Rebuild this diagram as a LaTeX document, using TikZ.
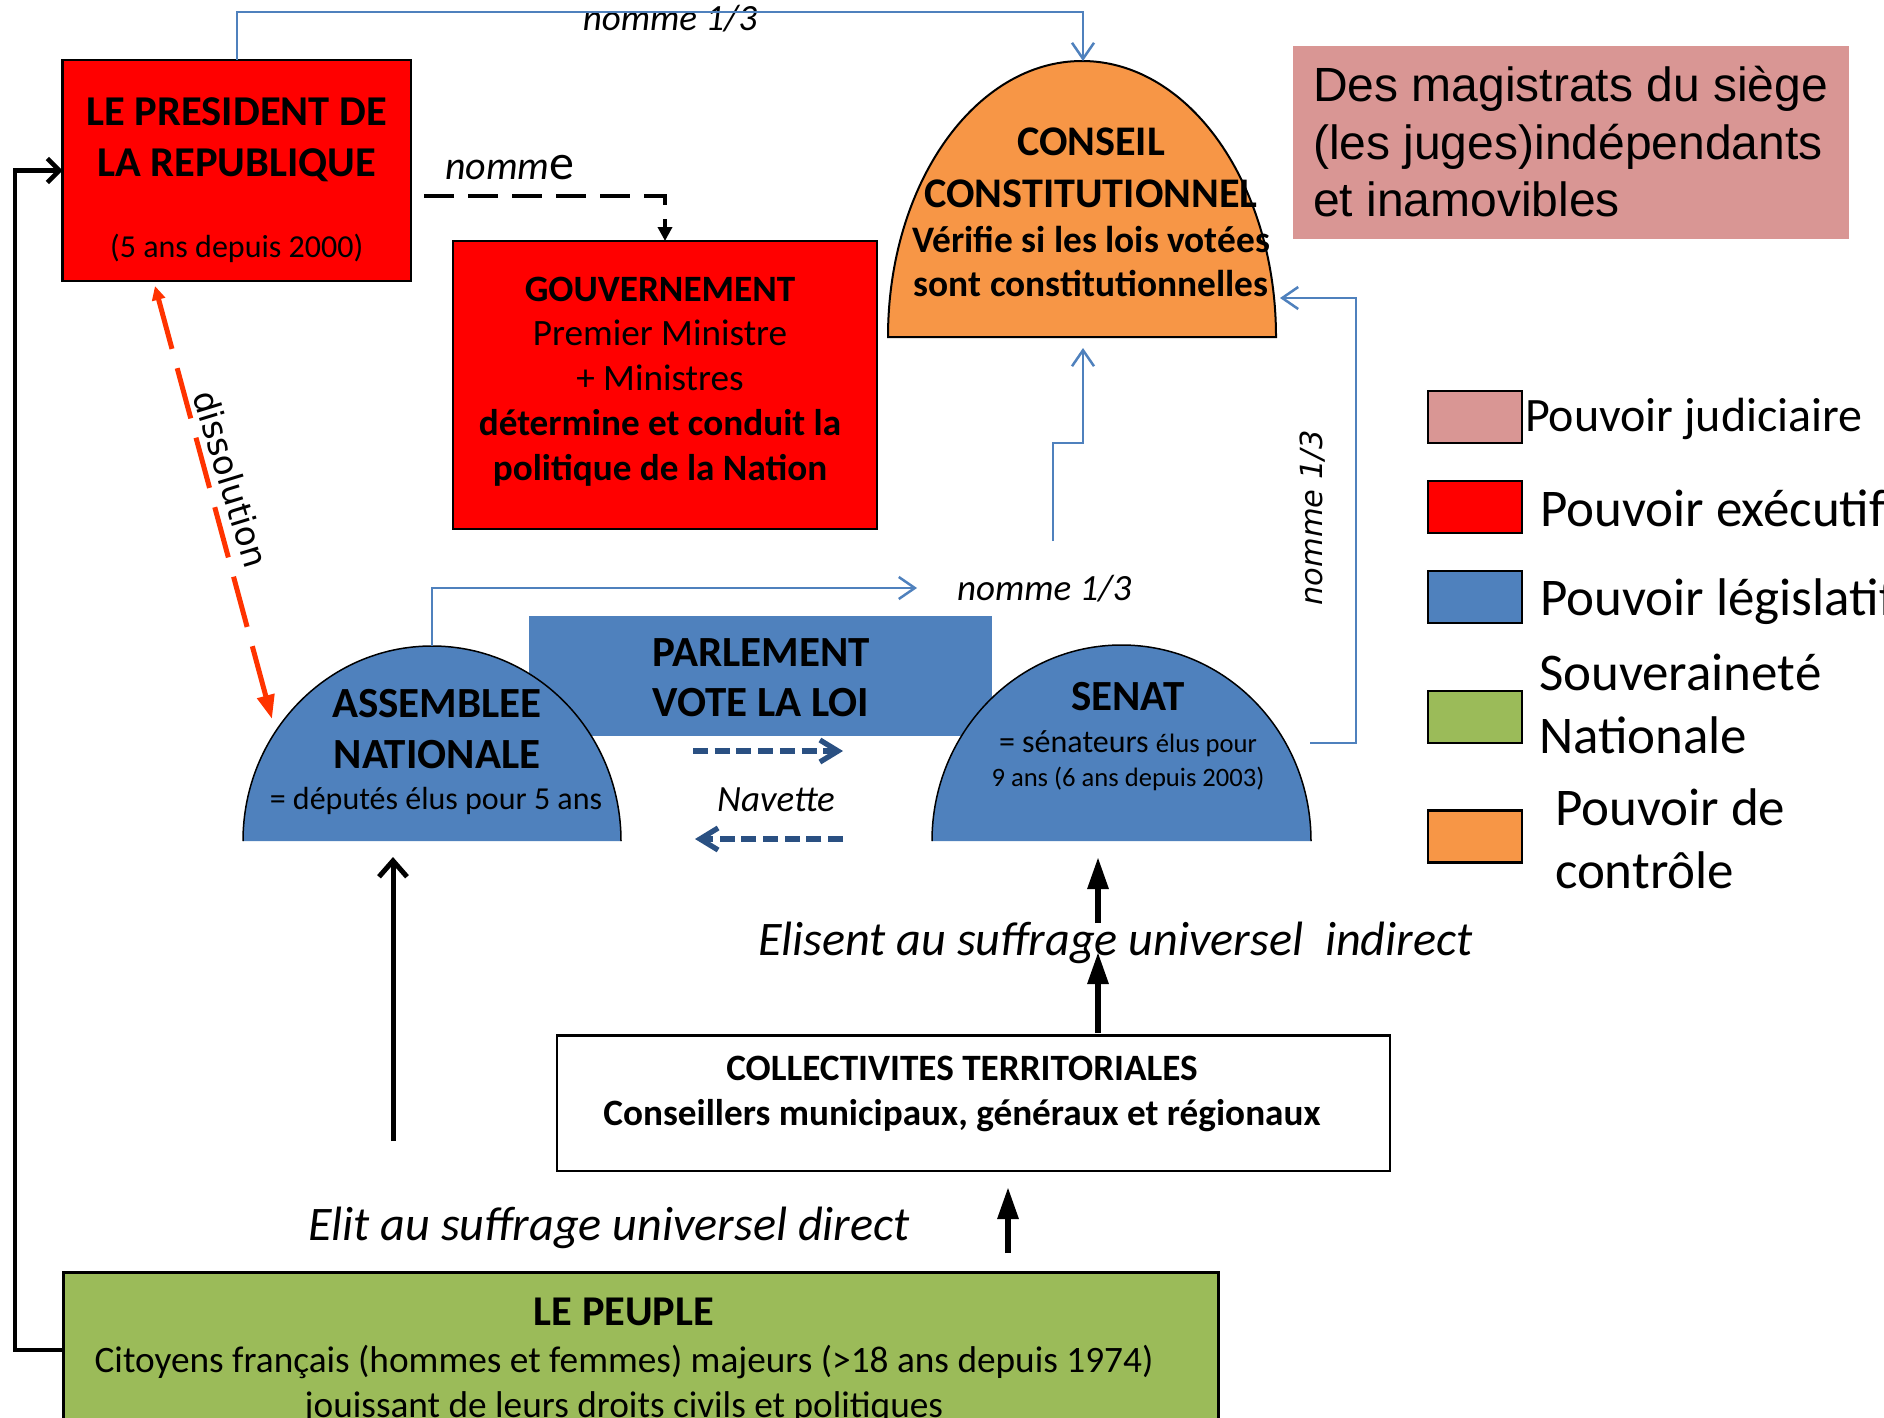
\documentclass[tikz,border=0pt]{standalone}
\usepackage{fontspec}
\setmainfont{Carlito}
\newfontfamily\arialf{Liberation Sans}
\newfontfamily\dejavu{DejaVu Sans}
\newfontfamily\dejavuobl{DejaVu Sans Oblique}
\usetikzlibrary{arrows.meta,calc}
\definecolor{execc}{HTML}{FF0000}
\definecolor{legis}{HTML}{4F81BD}
\definecolor{souv}{HTML}{9BBB59}
\definecolor{ctrl}{HTML}{F79646}
\definecolor{judi}{HTML}{D99694}
\definecolor{conblue}{HTML}{4F81BD}
\definecolor{navblue}{HTML}{2A5082}
\definecolor{dissred}{HTML}{FF3300}
\newcommand{\fsz}[1]{\fontsize{#1}{#1}\selectfont}
\tikzset{
  shapebox/.style={inner sep=0pt, outer sep=0pt, rectangle},
  redbox/.style={shapebox, draw=black, line width=2.5pt, fill=execc},
  legbox/.style={shapebox, draw=black, line width=2.5pt, minimum width=94pt, minimum height=52pt},
  txt/.style={anchor=base, inner sep=0pt, outer sep=0pt},
  txtw/.style={anchor=base west, inner sep=0pt, outer sep=0pt},
  bcon/.style={draw=conblue, line width=2.5pt, -{Straight Barb[length=16pt,width=22pt]}},
  bigblack/.style={draw=black, line width=5pt, -{Straight Barb[length=16pt,width=28pt]}},
  fillarrow/.style={draw=black, line width=6pt, -{Triangle[length=32pt,width=20pt]}},
  navarrow/.style={draw=navblue, line width=5.3pt, dash pattern=on 15pt off 6.7pt, -{Straight Barb[length=18pt,width=22pt]}},
}
\begin{document}
\begin{tikzpicture}[x=1pt,y=-1pt]
\useasboundingbox (0,0) rectangle (1884,1418);
\fill[white] (0,0) rectangle (1884,1418);

% ---------- boxes ----------
\node[redbox, minimum width=348.5pt, minimum height=221pt] (pres) at (236.75,170.5) {};
\node[redbox, line width=2pt, minimum width=424pt, minimum height=288pt] (gouv) at (665,385) {};
\node[shapebox, fill=judi, minimum width=556pt, minimum height=193pt] (judbox) at (1571,142.5) {};
\node[shapebox, fill=legis, minimum width=463pt, minimum height=120pt] (parl) at (760.5,676) {};
\node[shapebox, draw=black, line width=2.5pt, minimum width=833pt, minimum height=135.5pt] (colle) at (973.5,1103) {};
\node[shapebox, draw=black, line width=3pt, fill=souv, minimum width=1155pt, minimum height=200pt] (peu) at (640.5,1372) {};

% ---------- domes ----------
\node[shapebox, minimum width=388pt, minimum height=276pt] (cc) at (1082,199) {};
\fill[ctrl] (cc.south west) arc[start angle=180,end angle=0,x radius=194pt,y radius=276pt] -- cycle;
\draw[line width=2pt] (cc.south west) arc[start angle=180,end angle=0,x radius=194pt,y radius=276pt] -- cycle;

\node[shapebox, minimum width=378pt, minimum height=195pt] (an) at (432,743.5) {};
\fill[legis] (an.south west) arc[start angle=180,end angle=0,x radius=189pt,y radius=195pt] -- cycle;
\draw[line width=1.5pt] (an.south west) arc[start angle=180,end angle=0,x radius=189pt,y radius=195pt];

\node[shapebox, minimum width=379pt, minimum height=196pt] (se) at (1121.5,743) {};
\fill[legis] (se.south west) arc[start angle=180,end angle=0,x radius=189.5pt,y radius=196pt] -- cycle;
\draw[line width=1.5pt] (se.south west) arc[start angle=180,end angle=0,x radius=189.5pt,y radius=196pt];

% ---------- legend ----------
\node[legbox, fill=judi] (lg1) at (1475,417) {};
\node[legbox, fill=execc] (lg2) at (1475,507) {};
\node[legbox, fill=legis] (lg3) at (1475,597) {};
\node[legbox, fill=souv] (lg4) at (1475,717) {};
\node[legbox, fill=ctrl] (lg5) at (1475,836.5) {};
\node[txtw] (lt1) at (1525,431) {\fsz{48}Pouvoir judiciaire};
\node[txtw] (lt2) at (1540,526) {\fsz{53}Pouvoir exécutif};
\node[txtw] (lt3) at (1540,615) {\fsz{53}Pouvoir législatif};
\node[txtw] (lt4a) at (1539,690) {\fsz{53}Souveraineté};
\node[txtw] (lt4b) at (1539,753) {\fsz{53}Nationale};
\node[txtw] (lt5a) at (1555,825) {\fsz{53}Pouvoir de};
\node[txtw] (lt5b) at (1555,888) {\fsz{53}contrôle};

% ---------- texts ----------
\node[txt] (p1) at (236.75,125.7) {\fsz{42.5}\bfseries LE PRESIDENT DE};
\node[txt] (p2) at (236.75,176.8) {\fsz{42.5}\bfseries LA REPUBLIQUE};
\node[txt] (p3) at (236.75,257) {\fsz{32}(5 ans depuis 2000)};

\node[txt] (g1) at (660,301) {\fsz{37.2}\bfseries GOUVERNEMENT};
\node[txt] (g2) at (660,345.7) {\fsz{37.2}Premier Ministre};
\node[txt] (g3) at (660,390) {\fsz{37.2}+ Ministres};
\node[txt] (g4) at (660,435) {\fsz{37.2}\bfseries détermine et conduit la};
\node[txt] (g5) at (660,480) {\fsz{37.2}\bfseries politique de la Nation};

\node[txt] (c1) at (1091,156) {\fsz{42.2}\bfseries CONSEIL};
\node[txt] (c2) at (1091,207) {\fsz{42.2}\bfseries CONSTITUTIONNEL};
\node[txt] (c3) at (1091,252) {\fsz{37.4}\bfseries Vérifie si les lois votées};
\node[txt] (c4) at (1091,296) {\fsz{37.4}\bfseries sont constitutionnelles};

\node[txtw] (j1) at (1313,102) {\arialf\fsz{48}Des magistrats du siège};
\node[txtw] (j2) at (1313,159) {\arialf\fsz{48}(les juges)indépendants};
\node[txtw] (j3) at (1313,216) {\arialf\fsz{48}et inamovibles};

\node[txt] (pa1) at (761,666) {\fsz{43}\bfseries PARLEMENT};
\node[txt] (pa2) at (761,716.7) {\fsz{43}\bfseries VOTE LA LOI};

\node[txt] (a1) at (437,717) {\fsz{43}\bfseries ASSEMBLEE};
\node[txt] (a2) at (437,768) {\fsz{43}\bfseries NATIONALE};
\node[txt] (a3) at (436,809) {\fsz{32}= députés élus pour 5 ans};

\node[txt] (s1) at (1128,710.7) {\fsz{43}\bfseries SENAT};
\node[txt] (s2) at (1128,752.7) {\fsz{32}= sénateurs {\fsz{26.6}élus pour}};
\node[txt] (s3) at (1128,786.7) {\fsz{26.6}9 ans (6 ans depuis 2003)};

\node[txt] (nav) at (776,811) {\fsz{37}\itshape Navette};

\node[txt] (k1) at (962,1080.6) {\fsz{37.2}\bfseries COLLECTIVITES TERRITORIALES};
\node[txt] (k2) at (962,1125) {\fsz{37.2}\bfseries Conseillers municipaux, généraux et régionaux};

\node[txt] (l1) at (624,1325) {\fsz{42.4}\bfseries LE PEUPLE};
\node[txt] (l2) at (624,1372.5) {\fsz{37.3}Citoyens français (hommes et femmes) majeurs (>18 ans depuis 1974)};
\node[txt] (l3) at (624,1417) {\fsz{37.3}jouissant de leurs droits civils et politiques};

\node[txtw] (ind) at (758,955) {\fsz{48.2}\itshape Elisent au suffrage universel~~indirect};
\node[txtw] (dir) at (308,1240) {\fsz{48.2}\itshape Elit au suffrage universel direct};

\node[txt] (nm0) at (670,31) {\fsz{37}\itshape nomme 1/3};
\node[txtw] (nm1) at (445,179) {\fsz{40}\itshape nomm\upshape\fsz{50}e};
\node[txtw] (nm2) at (957,600) {\fsz{37}\itshape nomme 1/3};
\node[rotate=90, inner sep=0pt] (nm3) at (1313,518) {\dejavuobl\fsz{30.5}nomme 1/3};
\node[rotate=-73, inner sep=0pt] (diss) at (231,479) {\dejavu\fsz{34}dissolution};

% ---------- connector end points ----------
\coordinate (nomstart) at (424,196);
\coordinate (dissA) at (155,286);
\coordinate (dissB) at (272,719);
\coordinate (senR) at (1310,743);
\coordinate (ccR) at (1280,298);
\coordinate (ccB) at (1083,348);
\coordinate (nm2start) at (1053,541);
\coordinate (anarr) at (917,588);
\coordinate (bigA) at (393,1141);
\coordinate (bigB) at (393,857);
\coordinate (kA) at (1098,1033);
\coordinate (kB) at (1098,952);
\coordinate (kC) at (1098,923);
\coordinate (kD) at (1098,857);
\coordinate (pA) at (1008,1253);
\coordinate (pB) at (1008,1187);
\coordinate (nvA) at (693,751);
\coordinate (nvB) at (843,751);
\coordinate (nvC) at (843,839);
\coordinate (nvD) at (695,839);

% ---------- connectors ----------
\draw[bcon] (pres.north) |- ($(cc.north)+(1,-49)$) -- ($(cc.north)+(1,0)$);
\draw[bcon] (senR) -- ++(46,0) |- (ccR);
\draw[bcon] (nm2start) |- ($(ccB)+(0,95)$) -- (ccB);
\draw[bcon] (an.north) |- (anarr);

\draw[line width=4pt, dash pattern=on 30pt off 14pt, -{Triangle[length=14pt,width=14pt]}] (nomstart) -| (gouv.north);

\draw[dissred, line width=5pt, dash pattern=on 52pt off 20pt, {Triangle[length=14pt,width=13pt]}-{Triangle[length=24pt,width=17pt]}] (dissA) -- (dissB);

\draw[line width=4.5pt, -{Straight Barb[length=12pt,width=24pt]}] ($(peu.north west)+(0,78)$) -- ++(-48,0) |- (pres.west);

\draw[bigblack] (bigA) -- (bigB);
\draw[fillarrow] (kA) -- (kB);
\draw[fillarrow] (kC) -- (kD);
\draw[fillarrow] (pA) -- (pB);

\draw[navarrow] (nvA) -- (nvB);
\draw[navarrow] (nvC) -- (nvD);
\end{tikzpicture}
\end{document}
